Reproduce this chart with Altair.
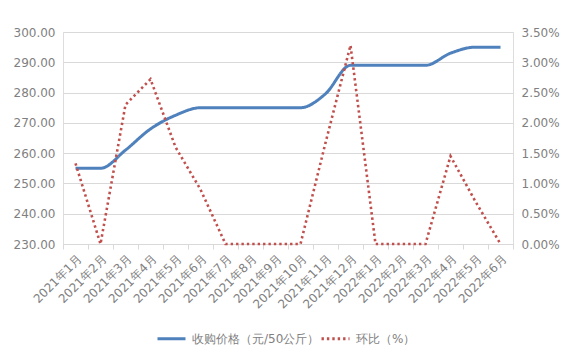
import altair as alt
import pandas as pd

months = ["2021年1月","2021年2月","2021年3月","2021年4月","2021年5月","2021年6月",
          "2021年7月","2021年8月","2021年9月","2021年10月","2021年11月","2021年12月",
          "2022年1月","2022年2月","2022年3月","2022年4月","2022年5月","2022年6月"]
price = [255, 255, 261, 268, 272.5, 275, 275, 275, 275, 275, 279.6, 289,
         289, 289, 289, 293, 295, 295]
ratio = [0.0133, 0.0, 0.0230, 0.0272, 0.0160, 0.0090, 0.0, 0.0, 0.0, 0.0, 0.0167, 0.0328,
         0.0, 0.0, 0.0, 0.0145, 0.0070, 0.0]

s1 = "收购价格（元/50公斤）"
s2 = "环比（%）"

df = pd.DataFrame({"month": months, "price": price, "ratio": ratio})

FONT = "DejaVu Sans"
GREY = "#7f7f7f"
GRID = "#d9d9d9"

color_scale = alt.Scale(domain=[s1, s2], range=["#4f81bd", "#c0504d"])
dash_scale = alt.Scale(domain=[s1, s2], range=[[1, 0], [2.4, 3.0]])
leg = alt.Legend(title=None, orient="none", legendX=93, legendY=291, direction="horizontal",
                 symbolType="stroke", symbolSize=784, symbolStrokeWidth=3,
                 labelFont=FONT, labelFontSize=12, labelColor=GREY, columnPadding=-12,
                 labelOffset=5)

x = alt.X("month:N", sort=months, title=None,
          scale=alt.Scale(paddingInner=0, paddingOuter=0),
          axis=alt.Axis(labelAngle=-45, tickBand="extent", tickSize=5, tickColor=GRID,
                        domainColor=GRID, labelFont=FONT, labelFontSize=12, labelColor=GREY,
                        labelPadding=4, grid=False))

base = alt.Chart(df)

line1 = base.transform_calculate(series=f"'{s1}'").mark_line(strokeWidth=3, interpolate="monotone").encode(
    x=x,
    y=alt.Y("price:Q", scale=alt.Scale(domain=[230, 300], nice=False, zero=False), title=None,
            axis=alt.Axis(format=".2f", values=[230,240,250,260,270,280,290,300], domain=False,
                          ticks=False, labelPadding=8, labelFont=FONT, labelFontSize=12,
                          labelColor=GREY, gridColor=GRID)),
    color=alt.Color("series:N", scale=color_scale, legend=leg),
    strokeDash=alt.StrokeDash("series:N", scale=dash_scale, legend=leg),
)

line2 = base.transform_calculate(series=f"'{s2}'").mark_line(strokeWidth=2.6, interpolate="linear").encode(
    x=x,
    y=alt.Y("ratio:Q", scale=alt.Scale(domain=[0, 0.035], nice=False), title=None,
            axis=alt.Axis(format=".2%", orient="right", values=[0,0.005,0.01,0.015,0.02,0.025,0.03,0.035],
                          domain=False, ticks=False, labelPadding=8, labelFont=FONT,
                          labelFontSize=12, labelColor=GREY, grid=False)),
    color=alt.Color("series:N", scale=color_scale, legend=leg),
    strokeDash=alt.StrokeDash("series:N", scale=dash_scale, legend=leg),
)

chart = alt.layer(line1, line2).resolve_scale(y="independent").properties(
    width=450, height=212,
    autosize=alt.AutoSizeParams(type="none"),
    padding={"left": 63, "top": 32, "right": 58, "bottom": 108},
).configure_view(stroke=None).configure(background="white")

chart.save("out.html", embed_options={"renderer": "svg", "actions": False})
